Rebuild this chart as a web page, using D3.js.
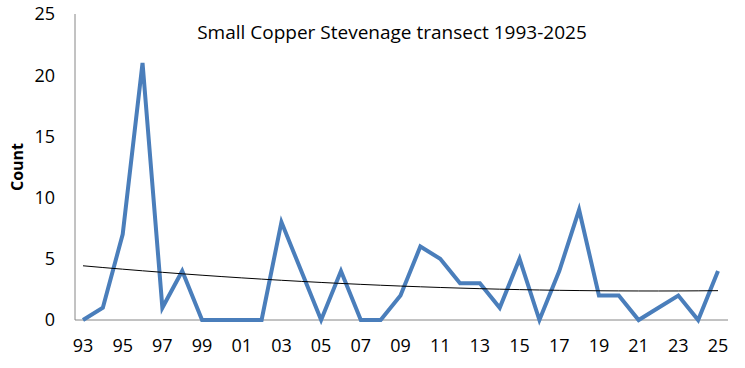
<!DOCTYPE html>
<html>
<head>
<meta charset="utf-8">
<script src="https://cdn.jsdelivr.net/npm/d3@7"></script>
<style>
  body { margin: 0; background: #fff; }
  text { font-family: "Open Sans", sans-serif; fill: #000; }
</style>
</head>
<body>
<script>
// counts per year
const years = d3.range(1993, 2026)
const counts = [0, 1, 7, 21, 1, 4, 0, 0, 0, 0, 8, 4, 0, 4, 0, 0, 2, 6, 5, 3, 3, 1, 5, 0, 4, 9, 2, 2, 0, 1, 2, 0, 4]
const yTicks = [0, 5, 10, 15, 20, 25]
const xTickYears = years.filter(y => y % 2 === 1)
const title = 'Small Copper Stevenage transect 1993-2025'

const width = 745, height = 368

// 2nd order polynomial trendline (least squares), like the spreadsheet one
function polyFit(xs, ys) {
    const n = xs.length
    const s = k => d3.sum(xs, v => Math.pow(v, k))
    const t = k => d3.sum(xs, (v, i) => Math.pow(v, k) * ys[i])
    const A = [[n, s(1), s(2)], [s(1), s(2), s(3)], [s(2), s(3), s(4)]]
    const b = [t(0), t(1), t(2)]
    // gaussian elimination
    for (let i = 0; i < 3; i++) {
        for (let j = i + 1; j < 3; j++) {
            const f = A[j][i] / A[i][i]
            for (let k = i; k < 3; k++) A[j][k] -= f * A[i][k]
            b[j] -= f * b[i]
        }
    }
    const c = [0, 0, 0]
    for (let i = 2; i >= 0; i--) {
        let v = b[i]
        for (let k = i + 1; k < 3; k++) v -= A[i][k] * c[k]
        c[i] = v / A[i][i]
    }
    return v => c[0] + c[1] * v + c[2] * v * v
}
const idx = years.map((d, i) => i + 1)
const trend = polyFit(idx, counts)

const svg = d3.select('body')
    .append('svg')
    .attr('width', width)
    .attr('height', height)

const x = d3.scaleLinear().domain([1993, 2025]).range([83, 718])
const y = d3.scaleLinear().domain([0, 25]).range([320, 14])

// axis lines
svg.append('line')
    .attr('x1', 75).attr('x2', 75)
    .attr('y1', y(25)).attr('y2', y(0))
    .attr('stroke', '#868686').attr('stroke-width', 1)
svg.append('line')
    .attr('x1', 75).attr('x2', 728)
    .attr('y1', y(0)).attr('y2', y(0))
    .attr('stroke', '#868686').attr('stroke-width', 1)

// y tick labels
svg.selectAll('.ylab')
    .data(yTicks)
    .enter().append('text')
    .attr('x', 55)
    .attr('y', d => y(d))
    .attr('dy', '0.35em')
    .attr('text-anchor', 'end')
    .style('font-size', '18px')
    .text(d => d)

// x tick labels (two-digit years)
svg.selectAll('.xlab')
    .data(xTickYears)
    .enter().append('text')
    .attr('x', d => x(d))
    .attr('y', 352)
    .attr('text-anchor', 'middle')
    .style('font-size', '18px')
    .text(d => String(d % 100).padStart(2, '0'))

// axis title
svg.append('text')
    .attr('transform', 'translate(23,167) rotate(-90)')
    .attr('text-anchor', 'middle')
    .style('font-size', '16px')
    .style('font-weight', 'bold')
    .text('Count')

// chart title
svg.append('text')
    .attr('x', 392)
    .attr('y', 39)
    .attr('text-anchor', 'middle')
    .style('font-size', '19px')
    .text(title)

// data line
const line = d3.line()
    .x((d, i) => x(years[i]))
    .y(d => y(d))

svg.append('path')
    .datum(counts)
    .attr('d', line)
    .attr('fill', 'none')
    .attr('stroke', '#4a7ebb')
    .attr('stroke-width', 4)
    .attr('stroke-linejoin', 'miter')

// trendline
svg.append('path')
    .datum(idx)
    .attr('d', d3.line().x((d, i) => x(years[i])).y(d => y(trend(d))))
    .attr('fill', 'none')
    .attr('stroke', '#000')
    .attr('stroke-width', 1)
</script>
</body>
</html>
